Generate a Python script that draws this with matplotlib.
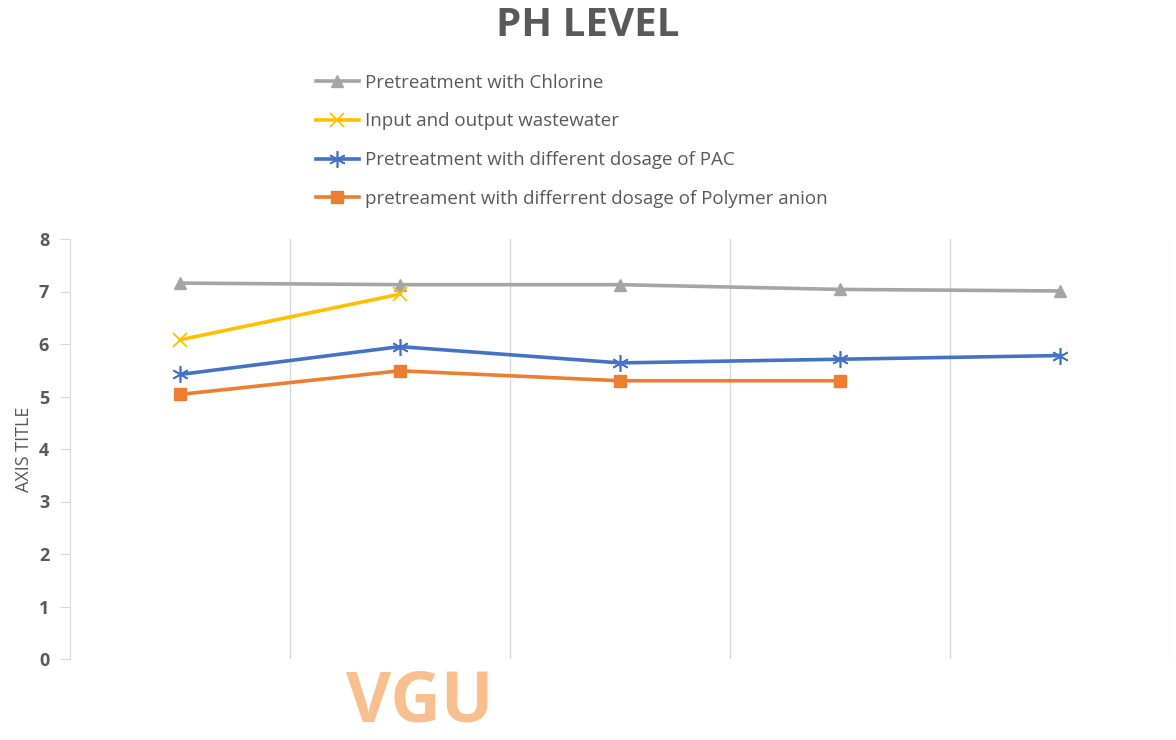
import matplotlib.pyplot as plt

# data
categories = [1, 2, 3, 4, 5]
chlorine = [7.16, 7.13, 7.13, 7.04, 7.01]
wastewater = [6.08, 6.95]
pac = [5.42, 5.95, 5.64, 5.71, 5.78]
polymer = [5.04, 5.49, 5.30, 5.30]

labels = ["Pretreatment with Chlorine",
          "Input and output wastewater",
          "Pretreatment with different dosage of PAC",
          "pretreament with differrent dosage of Polymer anion"]

plt.rcParams['font.family'] = ['Open Sans', 'DejaVu Sans']
txt = "#595959"

fig = plt.figure(figsize=(11.76, 7.4), dpi=100)
ax = fig.add_axes([70/1176, 81/740, 1100/1176, 420/740])

x = [c - 0.5 for c in categories]
ax.plot(x, chlorine, color="#A5A5A5", lw=2.6, marker="^", ms=9, label=labels[0])
ax.plot(x[:len(wastewater)], wastewater, color="#FFC000", lw=2.6, marker="x", ms=10, mew=1.3, label=labels[1])
ax.plot(x, pac, color="#4472C4", lw=2.6, marker=(6, 2, 0), ms=12, mew=1.2, label=labels[2])
ax.plot(x[:len(polymer)], polymer, color="#ED7D31", lw=2.6, marker="s", ms=9, label=labels[3])

ax.set_xlim(0, 5)
ax.set_ylim(0, 8)
ax.set_xticks([1, 2, 3, 4, 5])
ax.set_xticklabels([])
ax.tick_params(axis="x", length=0)
ax.grid(axis="x", color="#D9D9D9", lw=1)
ax.set_axisbelow(True)
ax.set_yticks(range(9))
ax.tick_params(axis="y", colors="#D9D9D9", length=7, labelcolor=txt, labelsize=13, pad=8)
for lab in ax.get_yticklabels():
    lab.set_fontweight("bold")
for s in ["top", "right", "bottom"]:
    ax.spines[s].set_visible(False)
ax.spines["left"].set_color("#D9D9D9")
ax.set_ylabel("AXIS TITLE", color=txt, fontsize=13, labelpad=4)

fig.text(0.5, 0.966, "PH LEVEL", ha="center", va="center",
         fontsize=29, fontweight="bold", color=txt)

leg = ax.legend(loc="upper left", bbox_to_anchor=(299/1176, 683/740), bbox_transform=fig.transFigure,
                frameon=False, fontsize=13.5, labelspacing=1.1, handlelength=2.3, handletextpad=0.3)
for t in leg.get_texts():
    t.set_color(txt)

# watermark logo
fig.text(420/1176, 1/740, "VGU", ha="center", va="bottom", fontsize=50, fontweight="bold",
         color="#F9C08F")

fig.savefig("out.png", dpi=100)
